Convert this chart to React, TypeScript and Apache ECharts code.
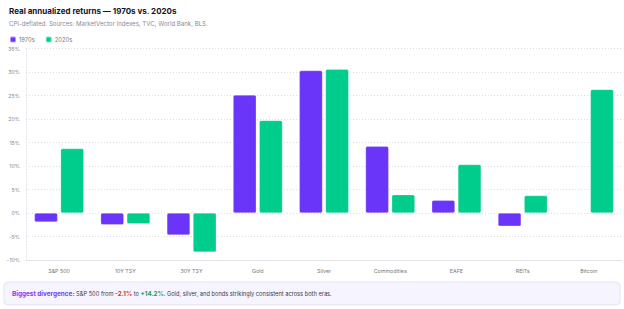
import React, { useEffect, useRef } from "react";
import * as echarts from "echarts";

const categories = ["S&P 500", "10Y TSY", "30Y TSY", "Gold", "Silver", "Commodities", "EAFE", "REITs", "Bitcoin"];
const returns1970s: (number | null)[] = [-1.9, -2.5, -4.7, 25.1, 30.3, 14.2, 2.7, -2.8, null];
const returns2020s: (number | null)[] = [13.7, -2.3, -8.3, 19.7, 30.6, 3.9, 10.3, 3.7, 26.3];
const seriesNames = ["1970s", "2020s"];
const yMin = -10;
const yMax = 35;
const yStep = 5;

const PURPLE = "#6a35f8";
const GREEN = "#00cc8c";
const FONT = "Inter, 'Noto Sans', sans-serif";

export default function App() {
  const ref = useRef<HTMLDivElement>(null);
  useEffect(() => {
    if (!ref.current) return;
    const chart = echarts.init(ref.current, null, { renderer: "svg" });
    chart.setOption({
      animation: false,
      backgroundColor: "#ffffff",
      textStyle: { fontFamily: FONT },
      title: [
        {
          text: "Real annualized returns — 1970s vs. 2020s",
          left: 4,
          top: 2,
          textStyle: { fontSize: 8, fontWeight: "bold", color: "#14142b", fontFamily: FONT },
        },
        {
          text: "CPI-deflated. Sources: MarketVector Indexes, TVC, World Bank, BLS.",
          left: 4,
          top: 15.5,
          textStyle: { fontSize: 6.1, fontWeight: "normal", color: "#8a8a99", fontFamily: FONT },
        },
      ],
      legend: {
        data: seriesNames,
        left: 4,
        top: 30.5,
        icon: "roundRect",
        itemWidth: 6,
        itemHeight: 6,
        itemGap: 10,
        textStyle: { fontSize: 5.8, color: "#777", fontFamily: FONT, padding: [0, 0, 0, -2] },
      },
      grid: { left: 26, right: 2, top: 48.5, bottom: 49 },
      xAxis: {
        type: "category",
        data: categories,
        axisTick: { show: false },
        axisLine: { onZero: false, lineStyle: { color: "#e2e2e8", width: 1 } },
        axisLabel: { fontSize: 5.3, color: "#777", margin: 8, fontFamily: FONT },
      },
      yAxis: {
        type: "value",
        min: yMin,
        max: yMax,
        interval: yStep,
        axisLine: { show: true, lineStyle: { color: "#e2e2e8", type: [1, 2] } },
        axisTick: { show: false },
        splitLine: { lineStyle: { color: "#dcdce4", type: [1, 2] } },
        axisLabel: { formatter: "{value}%", fontSize: 5.3, color: "#888", margin: 6, fontFamily: FONT },
      },
      series: [
        {
          name: seriesNames[0],
          type: "bar",
          data: returns1970s,
          barWidth: "35%",
          barGap: "13%",
          itemStyle: { color: PURPLE, borderRadius: 1.5, borderColor: "rgba(255,255,255,0.5)", borderWidth: 0.5 },
        },
        {
          name: seriesNames[1],
          type: "bar",
          data: returns2020s,
          barWidth: "35%",
          itemStyle: { color: GREEN, borderRadius: 1.5, borderColor: "rgba(255,255,255,0.5)", borderWidth: 0.5 },
        },
      ],
      graphic: [
        {
          type: "rect",
          shape: { x: 4, y: 282, width: 616, height: 23, r: 4 },
          style: { fill: "#f6f4ff", stroke: "#e6e1fb", lineWidth: 1 },
        },
        {
          type: "text",
          x: 12,
          y: 293.5,
          style: {
            text: "{b|Biggest divergence:} S&P 500 from {r|-2.1%} to {g|+14.2%}. Gold, silver, and bonds strikingly consistent across both eras.",
            fontSize: 5.7,
            fontFamily: FONT,
            fill: "#3a3a4a",
            verticalAlign: "middle",
            rich: {
              b: { fontSize: 6.4, fontWeight: "bold", fill: "#7a3cf5", fontFamily: FONT },
              r: { fontSize: 6.2, fontWeight: "bold", fill: "#e0301e", fontFamily: FONT },
              g: { fontSize: 6.2, fontWeight: "bold", fill: "#0c9e6a", fontFamily: FONT },
            },
          },
        },
      ],
    });
    return () => chart.dispose();
  }, []);
  return (
    <div
      ref={ref}
      style={{ position: "fixed", left: 0, top: 0, width: 624, height: 309, background: "#fff" }}
    />
  );
}
